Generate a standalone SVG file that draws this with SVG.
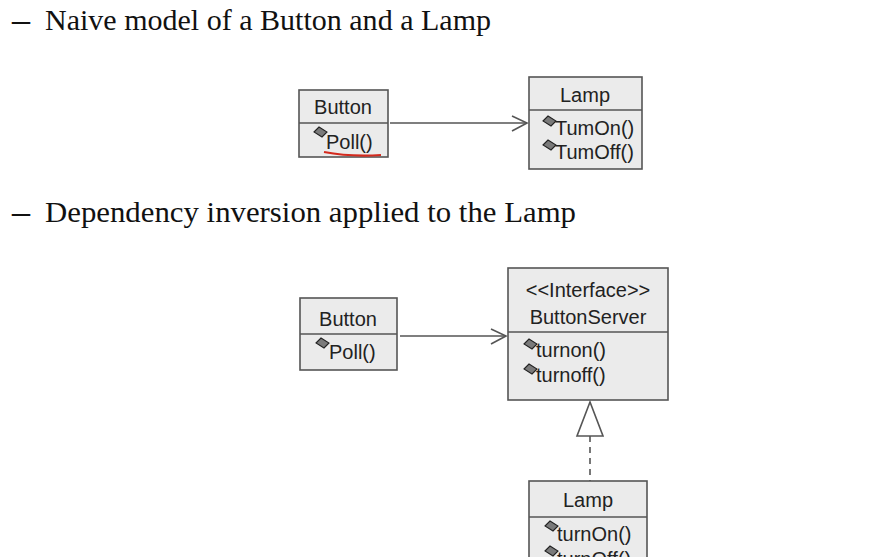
<svg xmlns="http://www.w3.org/2000/svg" width="879" height="557" viewBox="0 0 879 557">
<defs>
<style>
.box{fill:#ebebeb;stroke:#555;stroke-width:1.6}
.div{stroke:#555;stroke-width:1.6}
.t{font-family:"Liberation Sans",Arial,sans-serif;font-size:20px;fill:#222}
.h{font-family:"Liberation Serif","DejaVu Serif",serif;font-size:29px;fill:#111}
.ic{fill:#7a7a7a;stroke:#222;stroke-width:1.1}
.ln{stroke:#555;stroke-width:1.6;fill:none}
</style>
<polygon id="icon" class="ic" points="0,5 5,0 13,5 8,10"/>
</defs>
<rect width="879" height="557" fill="#fff"/>
<text class="h" x="12" y="30" textLength="18" lengthAdjust="spacingAndGlyphs" font-weight="bold">–</text>
<text class="h" x="45" y="30" textLength="446" lengthAdjust="spacingAndGlyphs">Naive model of a Button and a Lamp</text>
<text class="h" x="12" y="222" textLength="18" lengthAdjust="spacingAndGlyphs" font-weight="bold">–</text>
<text class="h" x="45" y="222" textLength="531" lengthAdjust="spacingAndGlyphs">Dependency inversion applied to the Lamp</text>

<g id="button1">
<rect class="box" x="299" y="90" width="89" height="67"/>
<line class="div" x1="299" y1="123" x2="388" y2="123"/>
<text class="t" x="343" y="114" text-anchor="middle">Button</text>
<use href="#icon" x="314" y="127"/>
<text class="t" x="326" y="149">Poll()</text>
<path d="M324,152 Q350,157 381,155" stroke="#d42a1e" stroke-width="2.2" fill="none"/>
</g>
<g id="lamp1">
<rect class="box" x="529" y="77" width="113" height="92"/>
<line class="div" x1="529" y1="110" x2="642" y2="110"/>
<text class="t" x="585" y="102" text-anchor="middle">Lamp</text>
<use href="#icon" x="543" y="116"/>
<text class="t" x="555" y="135">TumOn()</text>
<use href="#icon" x="543" y="140"/>
<text class="t" x="555" y="159">TumOff()</text>
</g>

<g id="button2">
<rect class="box" x="300" y="298" width="97" height="72"/>
<line class="div" x1="300" y1="334" x2="397" y2="334"/>
<text class="t" x="348" y="326" text-anchor="middle">Button</text>
<use href="#icon" x="316" y="338"/>
<text class="t" x="329" y="359">Poll()</text>
</g>
<g id="buttonserver">
<rect class="box" x="508" y="268" width="160" height="132"/>
<line class="div" x1="508" y1="332" x2="668" y2="332"/>
<text class="t" x="588" y="297" text-anchor="middle">&lt;&lt;Interface&gt;&gt;</text>
<text class="t" x="588" y="324" text-anchor="middle">ButtonServer</text>
<use href="#icon" x="524" y="339"/>
<text class="t" x="536" y="357">turnon()</text>
<use href="#icon" x="524" y="364"/>
<text class="t" x="536" y="382">turnoff()</text>
</g>
<g id="lamp2">
<rect class="box" x="529" y="481" width="118" height="90"/>
<line class="div" x1="529" y1="517" x2="647" y2="517"/>
<text class="t" x="588" y="507" text-anchor="middle">Lamp</text>
<use href="#icon" x="545" y="521"/>
<text class="t" x="557" y="541">turnOn()</text>
<use href="#icon" x="545" y="546"/>
<text class="t" x="557" y="566">turnOff()</text>
</g>

<g id="connectors">
<line class="ln" x1="390" y1="123" x2="527" y2="123"/>
<polyline class="ln" points="512,116 527,123 512,131"/>
<line class="ln" x1="400" y1="336" x2="506" y2="336"/>
<polyline class="ln" points="491,329 506,336 491,344"/>
<polygon points="590,402 577,436 603,436" fill="#fff" stroke="#555" stroke-width="1.6"/>
<line class="ln" x1="590" y1="436" x2="590" y2="481" stroke-dasharray="6,5"/>
</g>
</svg>
